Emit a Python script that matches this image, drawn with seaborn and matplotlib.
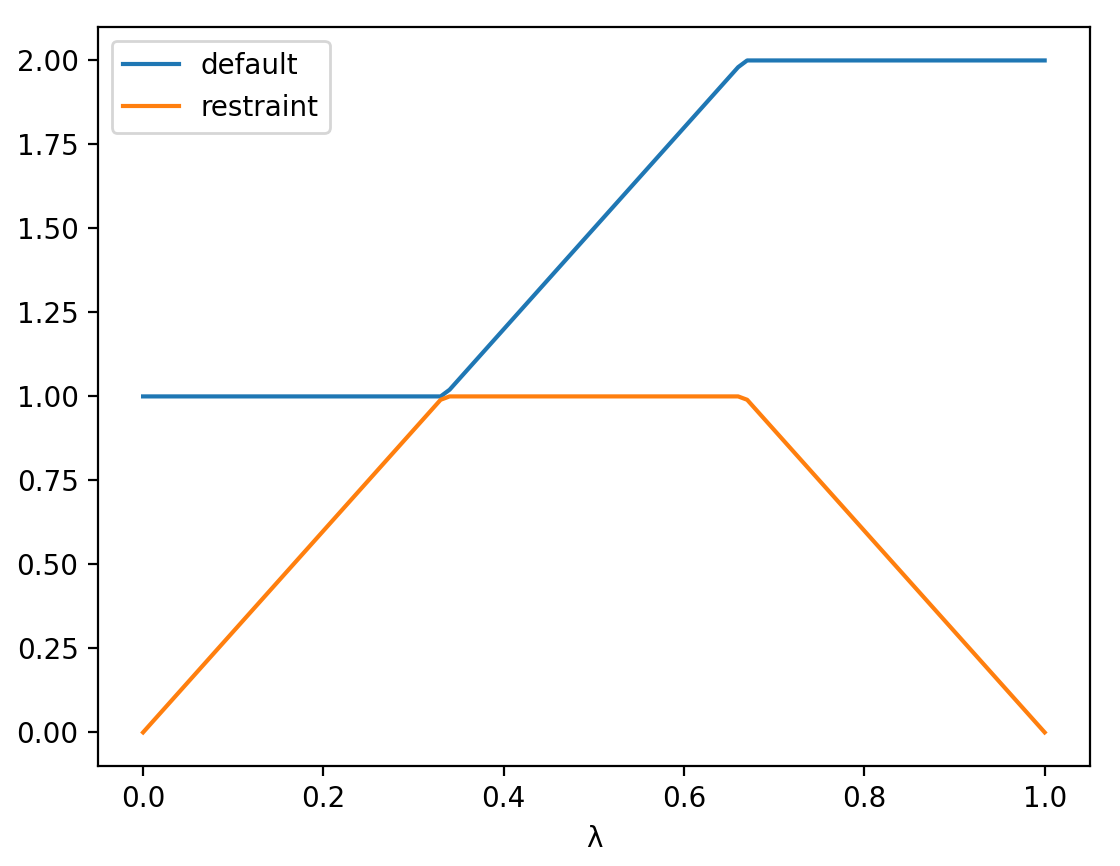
import numpy as np
import pandas as pd
import seaborn as sns
import matplotlib as mpl
mpl.use("Agg")
from matplotlib import pyplot as plt

# Breakpoints of the two curves
lam = [0.0, 0.33, 0.34, 0.66, 0.67, 1.0]
default_vals = [1.0, 1.0, 1.02, 1.98, 2.0, 2.0]
restraint_vals = [0.0, 0.99, 1.0, 1.0, 0.99, 0.0]

df = pd.DataFrame({
    "λ": lam * 2,
    "value": default_vals + restraint_vals,
    "series": ["default"] * len(lam) + ["restraint"] * len(lam),
})

fig, ax = plt.subplots(figsize=(5.6, 4.33), dpi=200)
sns.lineplot(data=df, x="λ", y="value", hue="series",
             palette=["#1f77b4", "#ff7f0e"], ax=ax)
ax.set_ylabel("")
ax.set_xlabel("λ")
ax.set_yticks([0.0, 0.25, 0.5, 0.75, 1.0, 1.25, 1.5, 1.75, 2.0])
ax.legend(loc="upper left", title=None)
fig.subplots_adjust(left=0.0875, right=0.973, top=0.969, bottom=0.1155)
plt.savefig("out.png", dpi=200)
